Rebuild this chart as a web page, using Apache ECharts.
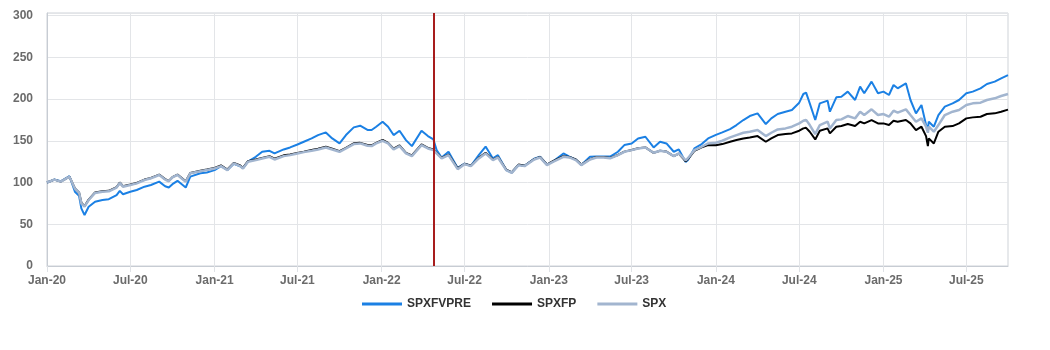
<!DOCTYPE html>
<html>
<head>
<meta charset="utf-8">
<script src="https://cdn.jsdelivr.net/npm/echarts@6/dist/echarts.min.js"></script>
<style>
  html, body { margin: 0; padding: 0; background: #fff; }
  #chart { width: 1050px; height: 350px; }
</style>
</head>
<body>
<div id="chart"></div>
<script>
// Observation dates (roughly twice a month, extra points around sharp moves)
const dates = [
  '2020-01-01','2020-01-17','2020-01-31','2020-02-19','2020-03-02','2020-03-11','2020-03-16','2020-03-23',
  '2020-04-01','2020-04-15','2020-05-01','2020-05-15','2020-06-01','2020-06-08','2020-06-15','2020-07-01',
  '2020-07-15','2020-08-01','2020-08-15','2020-09-02','2020-09-15','2020-09-23','2020-10-01','2020-10-12',
  '2020-10-30','2020-11-09','2020-12-01','2020-12-15','2021-01-01','2021-01-15','2021-01-29','2021-02-12',
  '2021-02-26','2021-03-04','2021-03-15','2021-04-01','2021-04-15','2021-05-01','2021-05-12','2021-06-01',
  '2021-06-15','2021-07-01','2021-07-15','2021-08-01','2021-08-15','2021-09-01','2021-09-15','2021-10-01',
  '2021-10-15','2021-11-01','2021-11-15','2021-12-01','2021-12-10','2021-12-20','2022-01-03','2022-01-15',
  '2022-01-27','2022-02-09','2022-02-23','2022-03-08','2022-03-29','2022-04-12','2022-04-24','2022-05-01',
  '2022-05-12','2022-05-27','2022-06-16','2022-07-01','2022-07-15','2022-08-01','2022-08-16','2022-09-01',
  '2022-09-12','2022-09-30','2022-10-12','2022-10-27','2022-11-09','2022-11-30','2022-12-13','2022-12-28',
  '2023-01-10','2023-02-02','2023-02-15','2023-03-01','2023-03-13','2023-04-01','2023-04-15','2023-05-01',
  '2023-05-15','2023-06-01','2023-06-15','2023-07-01','2023-07-15','2023-07-31','2023-08-18','2023-09-01',
  '2023-09-15','2023-10-01','2023-10-12','2023-10-27','2023-11-01','2023-11-15','2023-12-01','2023-12-15',
  '2024-01-01','2024-01-15','2024-02-01','2024-02-15','2024-03-01','2024-03-15','2024-04-01','2024-04-19',
  '2024-05-01','2024-05-15','2024-06-01','2024-06-15','2024-07-01','2024-07-10','2024-07-16','2024-07-24',
  '2024-08-05','2024-08-15','2024-09-01','2024-09-06','2024-09-20','2024-10-01','2024-10-15','2024-10-31',
  '2024-11-11','2024-11-20','2024-12-06','2024-12-20','2025-01-01','2025-01-13','2025-01-23','2025-02-01',
  '2025-02-19','2025-03-01','2025-03-13','2025-03-25','2025-04-04','2025-04-08','2025-04-10','2025-04-21',
  '2025-05-01','2025-05-15','2025-06-01','2025-06-15','2025-07-01','2025-07-15','2025-08-01','2025-08-15',
  '2025-09-01','2025-09-15','2025-09-30'
];

// Index levels, rebased to 100
const spxfvpre = [
  100,103.5,101.5,107.5,89,84,69,61,
  71,77,79,80,85,90,86,89,
  91,95,97,101,95.5,94,98,102,
  94,107,111,112,114.8,119.5,115,122.5,
  119.5,117,125,130.8,136.8,138,134.8,139.6,
  142,145.5,148.8,152.8,156.8,160,152.8,146.8,
  156.8,166,168,163,162.8,166.8,172.8,166.8,
  156.8,162,150.8,143.6,162,155.6,151.6,138.8,
  130,136.8,117.5,122.5,120,132.8,143,128.8,
  132.8,115,112,121,120,128.5,131,121.5,
  125,134.8,131,127.5,121,130.8,131,131,
  131,136.8,144.8,146.8,152.8,154.8,142,148.8,
  146.8,136.8,139.6,124.5,127,140.8,146,152.8,
  157,160,164,168.8,174.8,179.6,182.8,170,
  176.8,182,184.8,186.8,195.6,206,207.6,194.8,
  174.8,194.8,198,184.8,202,202.8,208.8,198.8,
  214.8,206.8,220.8,206.8,208.8,204.8,216.8,212.8,
  218.8,198.8,182.8,192.8,168.8,164.8,172.8,166.8,
  180.8,190.8,194.8,198.8,206.8,208.8,212.8,218,
  220.8,224.8,228.5
];

const spxfp = [
  100,103.5,101,107,93,88,76,71.5,
  79.5,88,89.5,90,94.5,100,95.5,97.5,
  99.5,103.5,105.5,109.5,104,102,106.5,109.5,
  101.5,111.5,114,115.5,117.5,120.5,115.5,123.5,
  120.5,117.5,125.5,127.5,129.5,131.5,128.5,132.5,
  133.5,135.5,137,139,140.5,143,140.5,137.5,
  141.5,147,147.5,145,144.5,147.5,151,147.5,
  140.5,144.5,135.5,132.5,145.5,141.5,139.5,135.5,
  129.5,133.5,117,122.5,120,129.5,135.5,127.5,
  130.5,115.5,112,121.5,120,128,130.5,121.5,
  125.5,131.5,130.5,127.5,121.5,128,130.5,130.5,
  129.5,133,137,139,141,142,135.5,138,
  137,131.5,134.5,125.5,128,138,142,144.8,
  144.5,146,148.8,150.8,152.8,154,155.6,148.8,
  152.8,156.8,158,158.8,162,164.8,165.5,160.8,
  151.6,162,164.8,158.8,166.8,167.6,170,167.6,
  172.8,170.8,174.8,170.8,170.8,168.8,174,172.8,
  174.8,170.8,162.8,166.8,155.6,143.6,152.8,146.8,
  160.8,166.8,167.6,170.8,176.8,178,178.8,182,
  182.8,184.8,187.3
];

const spx = [
  100,103.5,101,107,92.5,88,75,71,
  79,87.5,89,89.5,94,99.5,95,97,
  99,103,105,109,103.5,101.5,106,109,
  101,111,113.5,115,116.8,119.6,114.8,122.8,
  119.6,116.8,124.8,126.8,128.8,130.8,127.6,131.6,
  132.8,134.8,136.4,138,139.6,142,139.6,136.8,
  140.8,146,146.8,144,143.6,146.8,150,146.8,
  139.6,143.6,134.8,131.6,144.8,140.8,138.8,134.8,
  128.8,132.8,116,122,119.6,128.8,134.8,126.8,
  130,114.8,111.6,120.8,119.6,127.6,130,120.8,
  124.8,130.8,130,126.8,120.8,127.6,130,130,
  129,132.8,136.8,138.8,140.8,142,135.6,138,
  136.8,131.6,134.8,126.5,129,138.8,142.8,146.8,
  147.6,150,154,156.8,159.6,160.8,162.8,155.6,
  159.6,163.6,164.8,166.8,170.8,174,175,168.8,
  158,168.8,172.8,164.8,174.8,175.6,179.6,176.8,
  184.8,180.8,187.6,180.8,182,178.8,186,183.6,
  187.6,180.8,172.8,176.8,166.8,159.6,166.8,160.8,
  168.8,180.8,184.8,186.8,192.8,194.8,195.6,198.8,
  200.8,203.6,206
];

// Vertical reference date
const markerDate = '2022-04-25';

// Half-yearly tick dates
const xTickDates = [
  '2020-01-01','2020-07-01','2021-01-01','2021-07-01','2022-01-01','2022-07-01',
  '2023-01-01','2023-07-01','2024-01-01','2024-07-01','2025-01-01','2025-07-01'
];
const yTicks = [0, 50, 100, 150, 200, 250, 300];
const monthNames = ['Jan','Feb','Mar','Apr','May','Jun','Jul','Aug','Sep','Oct','Nov','Dec'];

// Dates are placed on a numeric (UTC millisecond) axis
const toTime = s => {
  const [y, m, d] = s.split('-').map(Number);
  return Date.UTC(y, m - 1, d);
};
const xTickValues = xTickDates.map(toTime);
const pairs = arr => dates.map((d, i) => [toTime(d), arr[i]]);

const chart = echarts.init(document.getElementById('chart'), null, { renderer: 'canvas' });

chart.setOption({
  animation: false,
  backgroundColor: '#ffffff',
  grid: {
    left: 47, right: 42, top: 13, bottom: 84,
    show: true, borderColor: '#cfd3d8', borderWidth: 1
  },
  legend: {
    left: 357, top: 293,
    itemWidth: 40, itemHeight: 3, itemGap: 21,
    icon: 'rect',
    textStyle: { fontFamily: 'Liberation Sans, Arial, sans-serif', fontWeight: 'bold', fontSize: 12, color: '#333' },
    data: ['SPXFVPRE', 'SPXFP', 'SPX']
  },
  xAxis: {
    type: 'value',
    min: toTime('2020-01-01'),
    max: toTime('2025-09-30'),
    axisLine: { lineStyle: { color: '#c7ccd3', width: 1 } },
    axisTick: { show: true, length: 6, lineStyle: { color: '#dfe2e6' }, customValues: xTickValues },
    minorTick: { show: false },
    splitLine: { show: true, lineStyle: { color: '#e3e5e8', width: 1 } },
    axisLabel: {
      margin: 9,
      customValues: xTickValues,
      hideOverlap: false,
      fontFamily: 'Liberation Sans, Arial, sans-serif',
      fontWeight: 'bold', fontSize: 12, color: '#6b6b6b',
      formatter: v => {
        const d = new Date(v);
        return monthNames[d.getUTCMonth()] + '-' + String(d.getUTCFullYear()).slice(2);
      }
    }
  },
  yAxis: {
    type: 'value',
    min: 0, max: 303, interval: 50,
    axisLine: { show: true, lineStyle: { color: '#c7ccd3', width: 1 } },
    axisTick: { show: false },
    splitLine: { show: true, lineStyle: { color: '#e3e5e8', width: 1 } },
    axisLabel: {
      margin: 14,
      fontFamily: 'Liberation Sans, Arial, sans-serif',
      fontWeight: 'bold', fontSize: 12, color: '#6b6b6b',
      formatter: v => (yTicks.includes(v) ? String(v) : '')
    }
  },
  series: [
    {
      name: 'SPXFVPRE', type: 'line', symbol: 'none',
      data: pairs(spxfvpre),
      lineStyle: { color: '#1b80e4', width: 2 },
      itemStyle: { color: '#1b80e4' },
      markLine: {
        silent: true, symbol: 'none', label: { show: false },
        lineStyle: { color: '#a71d1d', width: 2, type: 'solid' },
        data: [{ xAxis: toTime(markerDate) }]
      },
      z: 2
    },
    {
      name: 'SPXFP', type: 'line', symbol: 'none',
      data: pairs(spxfp),
      lineStyle: { color: '#000000', width: 2 },
      itemStyle: { color: '#000000' },
      z: 3
    },
    {
      name: 'SPX', type: 'line', symbol: 'none',
      data: pairs(spx),
      lineStyle: { color: '#a2b5cf', width: 2.5 },
      itemStyle: { color: '#a2b5cf' },
      z: 4
    }
  ]
});
</script>
</body>
</html>
